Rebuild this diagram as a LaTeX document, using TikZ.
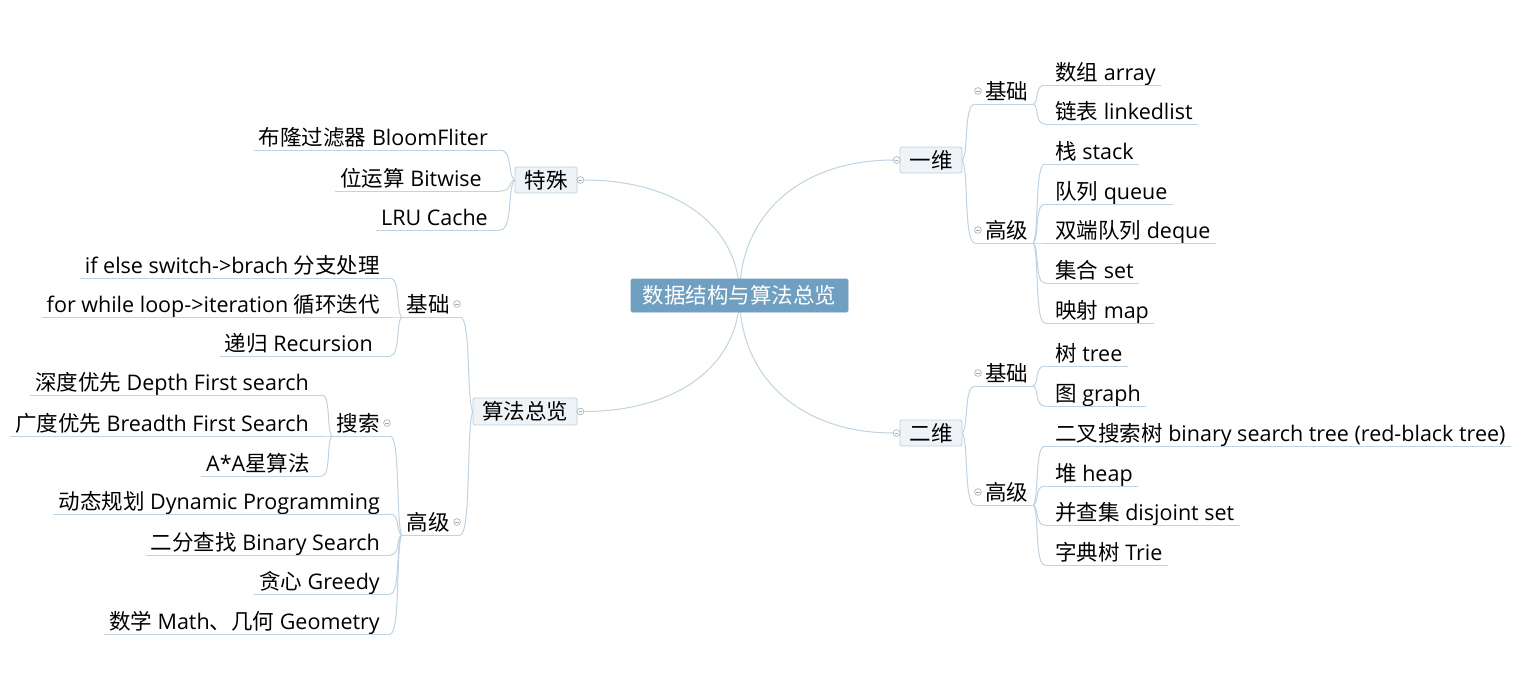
\documentclass[tikz,border=0pt]{standalone}
\usepackage{fontspec}
\setmainfont{Open Sans}
\newfontfamily\cjkf{Noto Sans CJK SC}
\newcommand\zh[1]{{\cjkf #1}}
\usetikzlibrary{calc,backgrounds}
\definecolor{linec}{HTML}{C0D3E3}
\definecolor{boxfill}{HTML}{EEF3F8}
\definecolor{boxdraw}{HTML}{BDD0E1}
\definecolor{centfill}{HTML}{6F9FC1}
\definecolor{circc}{HTML}{A9A9A9}
% right-growing node: name, text left x, parent-side x, underline y, text
\newcommand\RNode[5]{%
  \node[txt,anchor=base west] (#1) at (#2,#4-5) {#5};
  \coordinate (#1-p) at (#3,#4);
  \coordinate (#1-c) at ([shift={(5,5)}]#1.base east);
  \draw[ul] (#1-p) -- (#1-c);
}
% left-growing node: name, text right x, parent-side x, underline y, text
\newcommand\LNode[5]{%
  \node[txt,anchor=base east] (#1) at (#2,#4-5) {#5};
  \coordinate (#1-p) at (#3,#4);
  \coordinate (#1-c) at ([shift={(-5,5)}]#1.base west);
  \draw[ul] (#1-c) -- (#1-p);
}
\newcommand\link[2]{\draw[conn] let \p1=(#1), \p2=(#2) in (#1) .. controls ({\x1+0.5*(\x2-\x1)},{\y1+0.15*(\y2-\y1)}) and ({\x1+0.1*(\x2-\x1)},{\y2}) .. (#2);}
\newcommand\rootlink[1]{\draw[conn] let \p1=(root.center), \p2=(#1) in (root.center) .. controls (\x1,{\y1+0.6*(\y2-\y1)}) and ({\x2+0.6*(\x1-\x2)},\y2) .. (#1);}
\newcommand\knob[1]{\draw[knob,fill=white] (#1) circle (3.4pt); \draw[knob] ([xshift=-1.8pt]#1) -- ([xshift=1.8pt]#1);}
\begin{document}
\begin{tikzpicture}[x=1pt,y=-1pt,
  txt/.style={inner sep=0pt, font=\fontsize{21.5}{25}\selectfont, text=black},
  ul/.style={draw=linec, line width=1pt},
  conn/.style={draw=linec, line width=1pt},
  box/.style={draw=boxdraw, fill=boxfill, rounded corners=1.5pt, inner sep=0pt, font=\fontsize{21.5}{25}\selectfont, line width=0.8pt},
  knob/.style={draw=circc, line width=0.6pt},
]
\useasboundingbox (0,0) rectangle (1539,699);

\node[box, fill=centfill, draw=centfill, text=white, minimum width=217pt, minimum height=33pt] (root) at (739.5,295.5) {\zh{数据结构与算法总览}};
\node[box, minimum width=62pt, minimum height=26pt] (yiwei) at (931,160) {\zh{一维}};
\node[box, minimum width=62pt, minimum height=26pt] (erwei) at (931,433) {\zh{二维}};
\node[box, minimum width=62pt, minimum height=26pt] (teshu) at (546,180) {\zh{特殊}};
\node[box, minimum width=104pt, minimum height=27pt] (suanfa) at (525,411.5) {\zh{算法总览}};

\coordinate (yiwei-k) at ([xshift=-3pt]yiwei.west);
\coordinate (yiwei-e) at ([xshift=-6.3pt]yiwei.west);
\coordinate (erwei-k) at ([xshift=-3pt]erwei.west);
\coordinate (erwei-e) at ([xshift=-6.3pt]erwei.west);
\coordinate (teshu-k) at ([xshift=3pt]teshu.east);
\coordinate (teshu-e) at ([xshift=6.3pt]teshu.east);
\coordinate (suanfa-k) at ([xshift=3pt]suanfa.east);
\coordinate (suanfa-e) at ([xshift=6.3pt]suanfa.east);

% right side
\RNode{a}{985}{975}{104}{\zh{基础}}
\RNode{a1}{1055}{1045}{85}{\zh{数组} array}
\RNode{a2}{1055}{1045}{124}{\zh{链表} linkedlist}
\RNode{b}{985}{975}{243}{\zh{高级}}
\RNode{b1}{1055}{1045}{164}{\zh{栈} stack}
\RNode{b2}{1055}{1045}{204}{\zh{队列} queue}
\RNode{b3}{1055}{1045}{243}{\zh{双端队列} deque}
\RNode{b4}{1055}{1045}{283}{\zh{集合} set}
\RNode{b5}{1055}{1045}{323}{\zh{映射} map}
\RNode{c}{985}{975}{386}{\zh{基础}}
\RNode{c1}{1055}{1045}{366}{\zh{树} tree}
\RNode{c2}{1055}{1045}{406}{\zh{图} graph}
\RNode{d}{985}{975}{505}{\zh{高级}}
\RNode{d1}{1055}{1045}{446}{\zh{二叉搜索树} binary search tree (red-black tree)}
\RNode{d2}{1055}{1045}{486}{\zh{堆} heap}
\RNode{d3}{1055}{1045}{525}{\zh{并查集} disjoint set}
\RNode{d4}{1055}{1045}{565}{\zh{字典树} Trie}

% left side
\LNode{e1}{488}{500}{150}{\zh{布隆过滤器} BloomFliter}
\LNode{e2}{482}{500}{191}{\zh{位运算} Bitwise}
\LNode{e3}{488}{500}{230}{LRU Cache}
\LNode{f}{450}{460}{317}{\zh{基础}}
\LNode{f1}{380}{390}{278}{if else switch->brach \zh{分支处理}}
\LNode{f2}{380}{390}{317}{for while loop->iteration \zh{循环迭代}}
\LNode{f3}{373}{390}{356}{\zh{递归} Recursion}
\LNode{g}{450}{460}{535}{\zh{高级}}
\LNode{h}{380}{390}{436}{\zh{搜索}}
\LNode{h1}{309}{322}{395}{\zh{深度优先} Depth First search}
\LNode{h2}{309}{322}{436}{\zh{广度优先} Breadth First Search}
\LNode{h3}{310}{322}{476}{A*A\zh{星算法}}
\LNode{g1}{380}{390}{514}{\zh{动态规划} Dynamic Programming}
\LNode{g2}{380}{390}{555}{\zh{二分查找} Binary Search}
\LNode{g3}{380}{390}{594}{\zh{贪心} Greedy}
\LNode{g4}{380}{390}{634}{\zh{数学} Math\zh{、几何} Geometry}

\begin{pgfonlayer}{background}
\fill[white] (0,0) rectangle (1539,699);
\rootlink{yiwei-e}
\rootlink{erwei-e}
\rootlink{teshu-e}
\rootlink{suanfa-e}
\link{yiwei.east}{a-p}\link{yiwei.east}{b-p}
\link{erwei.east}{c-p}\link{erwei.east}{d-p}
\link{a-c}{a1-p}\link{a-c}{a2-p}
\link{b-c}{b1-p}\link{b-c}{b2-p}\link{b-c}{b3-p}\link{b-c}{b4-p}\link{b-c}{b5-p}
\link{c-c}{c1-p}\link{c-c}{c2-p}
\link{d-c}{d1-p}\link{d-c}{d2-p}\link{d-c}{d3-p}\link{d-c}{d4-p}
\link{teshu.west}{e1-p}\link{teshu.west}{e2-p}\link{teshu.west}{e3-p}
\link{suanfa.west}{f-p}\link{suanfa.west}{g-p}
\link{f-c}{f1-p}\link{f-c}{f2-p}\link{f-c}{f3-p}
\link{g-c}{h-p}\link{g-c}{g1-p}\link{g-c}{g2-p}\link{g-c}{g3-p}\link{g-c}{g4-p}
\link{h-c}{h1-p}\link{h-c}{h2-p}\link{h-c}{h3-p}
\end{pgfonlayer}

% collapse knobs
\knob{yiwei-k}\knob{erwei-k}\knob{teshu-k}\knob{suanfa-k}
\coordinate (a-k) at ([shift={(3,-13)}]a-p);\knob{a-k}
\coordinate (b-k) at ([shift={(3,-13)}]b-p);\knob{b-k}
\coordinate (c-k) at ([shift={(3,-13)}]c-p);\knob{c-k}
\coordinate (d-k) at ([shift={(3,-13)}]d-p);\knob{d-k}
\coordinate (f-k) at ([shift={(-3,-13)}]f-p);\knob{f-k}
\coordinate (g-k) at ([shift={(-3,-13)}]g-p);\knob{g-k}
\coordinate (h-k) at ([shift={(-3,-13)}]h-p);\knob{h-k}
\end{tikzpicture}
\end{document}
